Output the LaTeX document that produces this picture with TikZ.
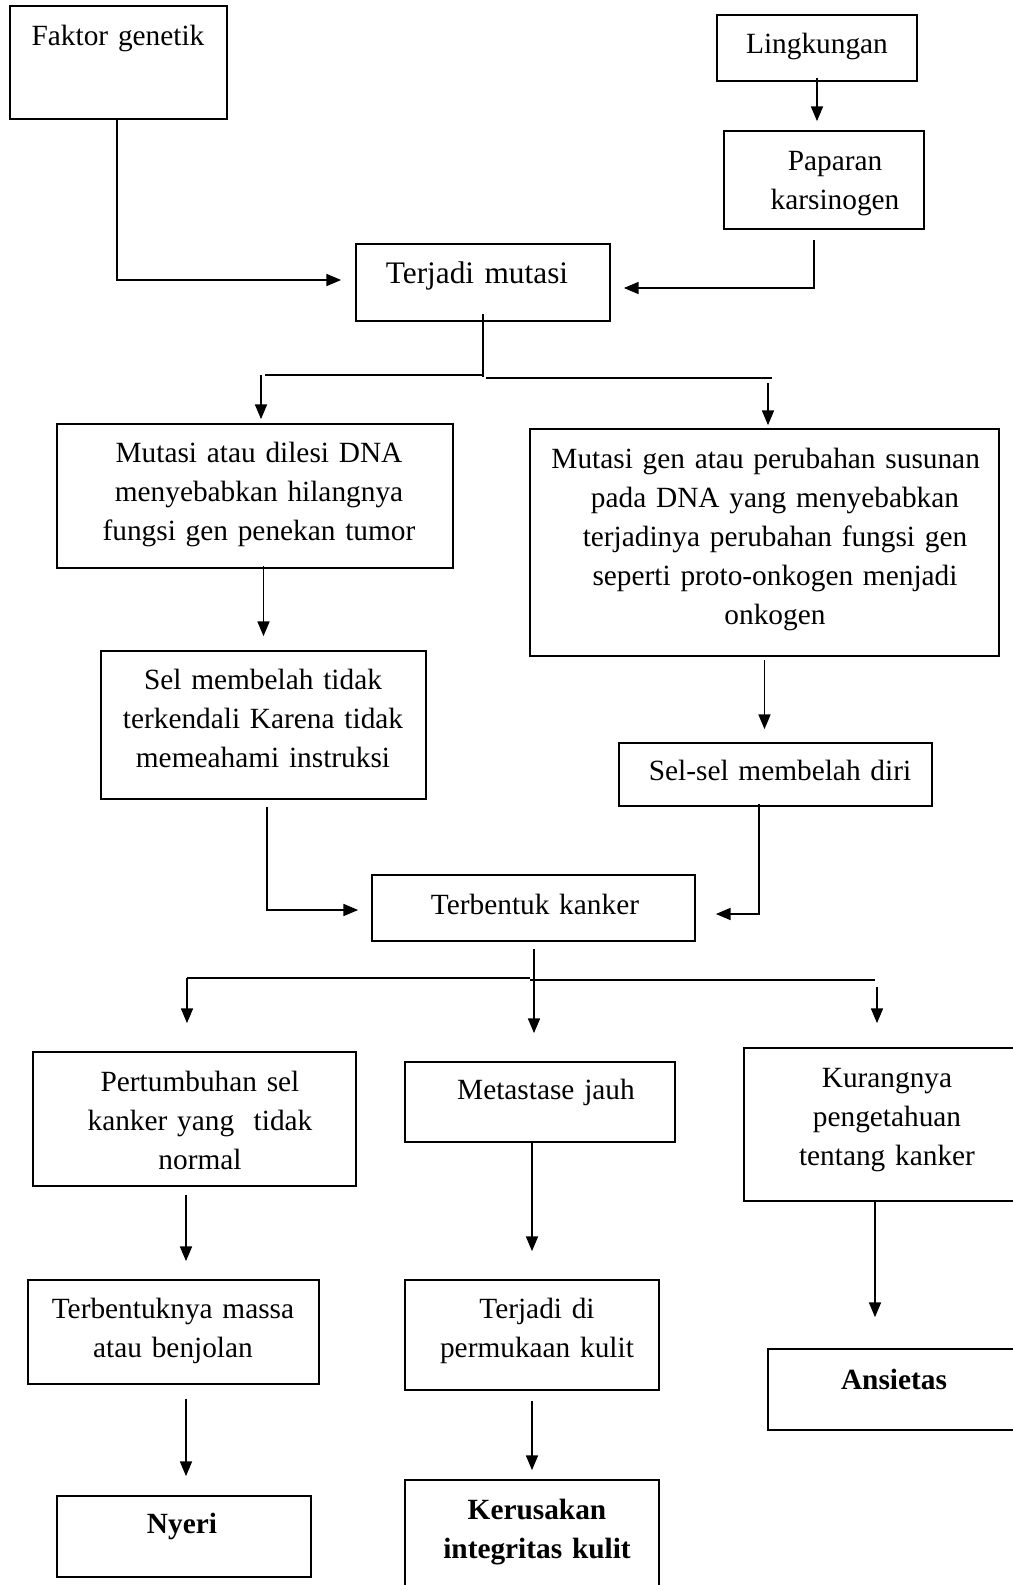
\documentclass[tikz,border=0pt]{standalone}
\usepackage{fontspec}
\setmainfont{Liberation Serif}
\usetikzlibrary{arrows.meta,fit,calc}
\begin{document}
\begin{tikzpicture}[x=0.75pt,y=-0.75pt,
  box/.style={draw, line width=1.3pt, inner sep=0pt, rectangle},
  txt/.style={font=\fontsize{22}{29.25}\selectfont, align=center, text width=400pt, inner sep=0pt, anchor=base},
  conn/.style={line width=1.1pt},
  arr/.style={line width=1.1pt, -{Triangle[length=11pt,width=9pt]}}]
\clip (0,0) rectangle (1013,1585);
\fill[white] (0,0) rectangle (1013,1585);
% boxes
\node[box, fit={(10,6)(227,119)}] (fak) {};
\node[box, fit={(717,15)(917,81)}] (ling) {};
\node[box, fit={(724,131)(924,229)}] (pap) {};
\node[box, fit={(356,244)(610,321)}] (mut) {};
\node[box, fit={(57,424)(453,568)}] (dil) {};
\node[box, fit={(530,429)(999,656)}] (rb) {};
\node[box, fit={(101,651)(426,799)}] (sel) {};
\node[box, fit={(619,743)(932,806)}] (ss) {};
\node[box, fit={(372,875)(695,941)}] (tk) {};
\node[box, fit={(33,1052)(356,1186)}] (pert) {};
\node[box, fit={(405,1062)(675,1142)}] (met) {};
\node[box, fit={(744,1048)(1030,1201)}] (kur) {};
\node[box, fit={(28,1280)(319,1384)}] (tm) {};
\node[box, fit={(405,1280)(659,1390)}] (td) {};
\node[box, fit={(768,1349)(1030,1430)}] (ans) {};
\node[box, fit={(57,1496)(311,1577)}] (ny) {};
\node[box, fit={(405,1480)(659,1600)}] (ker) {};
% texts
\node[txt] (fakt) at (118,45) {Faktor genetik};
\node[txt] (lingt) at (817,53) {Lingkungan};
\node[txt] (papt) at (835,170) {Paparan\\karsinogen};
\node[txt, font=\fontsize{23.5}{29.25}\selectfont] (mutt) at (477,283) {Terjadi mutasi};
\node[txt] (dilt) at (259,462) {Mutasi atau dilesi DNA\\menyebabkan hilangnya\\fungsi gen penekan tumor};
\node[txt] (rbt) at (775,468) {Mutasi gen atau perubahan susunan\rule{14pt}{0pt}\\pada DNA yang menyebabkan\\terjadinya perubahan fungsi gen\\seperti proto-onkogen menjadi\\onkogen};
\node[txt] (selt) at (263,689) {Sel membelah tidak\\terkendali Karena tidak\\memeahami instruksi};
\node[txt] (sst) at (780,780) {Sel-sel membelah diri};
\node[txt] (tkt) at (535,914) {Terbentuk kanker};
\node[txt] (pertt) at (200,1091) {Pertumbuhan sel\\kanker yang~ tidak\\normal};
\node[txt] (mett) at (546,1099) {Metastase jauh};
\node[txt] (kurt) at (887,1087) {Kurangnya\\pengetahuan\\tentang kanker};
\node[txt] (tmt) at (173,1318) {Terbentuknya massa\\atau benjolan};
\node[txt] (tdt) at (537,1318) {Terjadi di\\permukaan kulit};
\node[txt, font=\fontsize{22}{29.25}\selectfont\bfseries] (anst) at (894,1389) {Ansietas};
\node[txt, font=\fontsize{22}{29.25}\selectfont\bfseries] (nyt) at (182,1533) {Nyeri};
\node[txt, font=\fontsize{22}{29.25}\selectfont\bfseries] (kert) at (537,1519) {Kerusakan\\integritas kulit};
% branch coordinates
\coordinate (b1) at (483,376);
\coordinate (b1L) at (261,375);
\coordinate (b1R) at (772,378);
\coordinate (b1Ra) at (768,383);
\coordinate (b2) at (534,979);
\coordinate (b2L) at (187,978);
\coordinate (b2R) at (875,980);
\coordinate (b2Ra) at (877,987);
% connectors
\draw[arr] ($(fak.south)+(-1.5,0)$) |- ($(mut.west)+(-14,-2.5)$);
\draw[arr] ($(ling.south)+(0,-4)$) -- ($(ling.south |- pap.north)+(0,-9)$);
\draw[arr] ($(pap.south)+(-10,10)$) |- ($(mut.east)+(13,5.5)$);
\draw[conn] ($(mut.south)+(0,-8)$) -- ($(b1)+(0,1)$);
\draw[conn] ($(b1)+(0,-1)$) -- ($(b1L)+(4,0)$);
\draw[conn] ($(b1)+(3,2)$) -- (b1R);
\draw[arr] (b1L) -- ($(b1L |- dil.north)+(0,-4)$);
\draw[arr] (b1Ra) -- ($(b1Ra |- rb.north)+(0,-3)$);
\draw[arr] ($(dil.south -| sel.north)+(0,-3)$) -- ($(sel.north)+(0,-14)$);
\draw[arr] ($(rb.south)+(0,3)$) -- ($(rb.south |- ss.north)+(0,-13)$);
\draw[arr] ($(sel.south)+(3.5,7)$) |- ($(tk.west)+(-13,2)$);
\draw[arr] ($(ss.south)+(-16.5,-3)$) |- ($(tk.east)+(20,6)$);
\draw[arr] ($(tk.south)+(0.5,7)$) -- ($(tk.south |- met.north)+(0.5,-28)$);
\draw[conn] (b2L) -- ($(b2)+(-4,-1)$);
\draw[conn] ($(b2)+(-4,1)$) -- (b2R);
\draw[arr] (b2L) -- ($(b2L |- pert.north)+(0,-28)$);
\draw[arr] (b2Ra) -- ($(b2Ra |- kur.north)+(0,-24)$);
\draw[arr] ($(tm.north)+(12.5,-84)$) -- ($(tm.north)+(12.5,-18)$);
\draw[arr] ($(met.south)+(-8,0)$) -- ($(td.north)+(0,-28)$);
\draw[arr] ($(kur.south)+(-12,-2)$) -- ($(ans.north)+(-24,-31)$);
\draw[arr] ($(tm.south)+(12.5,14)$) -- ($(ny.north)+(2,-19)$);
\draw[arr] ($(td.south)+(0,10)$) -- ($(ker.north)+(0,-9)$);
\end{tikzpicture}
\end{document}
